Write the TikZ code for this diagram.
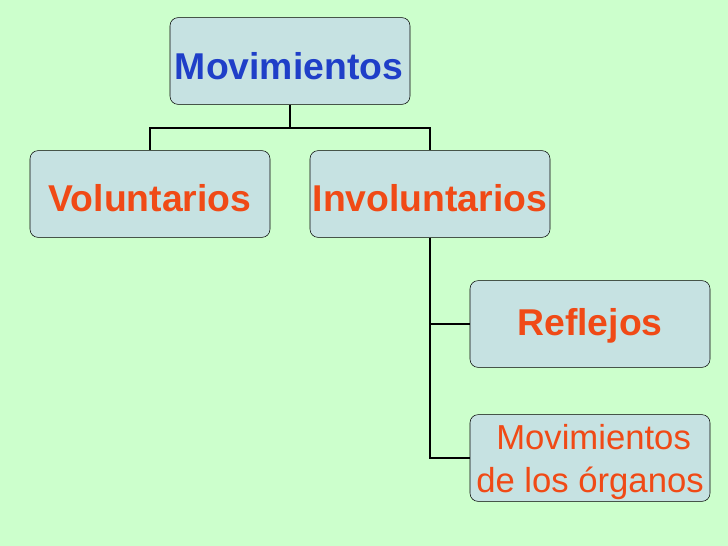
\documentclass[tikz,border=0pt]{standalone}
\usepackage{fontspec}
\setmainfont{Liberation Sans}
\usetikzlibrary{positioning}
\definecolor{bgcol}{HTML}{CCFFCC}
\definecolor{boxcol}{HTML}{C6E2E2}
\definecolor{bluetxt}{HTML}{1F3FC8}
\definecolor{redtxt}{HTML}{F04A16}
\tikzset{
  box/.style={draw, rounded corners=6pt, fill=boxcol, minimum width=180pt, minimum height=65pt, inner sep=0pt},
  link/.style={draw, line width=1.5pt}
}
\begin{document}
\begin{tikzpicture}[x=0.75pt, y=-0.75pt]
  \fill[bgcol] (0,0) rectangle (728,546);
  \useasboundingbox (0,0) rectangle (728,546);

  \node (mov) [box] at (290,61) {};
  \node (vol) [box] at (150,194) {};
  \node (inv) [box] at (430,194) {};
  \node (ref) [box] at (590,324) {};
  \node (org) [box] at (590,458) {};

  \node (movtxt) [text=bluetxt, font=\fontsize{28}{32}\selectfont\bfseries] at (289,66) {Movimientos};
  \node (voltxt) [text=redtxt, font=\fontsize{28}{32}\selectfont\bfseries] at (150,198) {Voluntarios};
  \node (invtxt) [text=redtxt, font=\fontsize{28}{32}\selectfont\bfseries] at (430,198) {Involuntarios};
  \node (reftxt) [text=redtxt, font=\fontsize{28}{32}\selectfont\bfseries] at (590,326) {Reflejos};
  \node (orgtxt) [text=redtxt, font=\fontsize{26}{32}\selectfont, align=left, inner sep=0pt] at (590,462) {\hspace*{15pt}Movimientos\\de los órganos};

  \draw[link] (mov.south) -- ++(0,23) -| (vol.north);
  \draw[link] (mov.south) -- ++(0,23) -| (inv.north);
  \draw[link] (inv.south) |- (ref.west);
  \draw[link] (inv.south) |- (org.west);
\end{tikzpicture}
\end{document}
